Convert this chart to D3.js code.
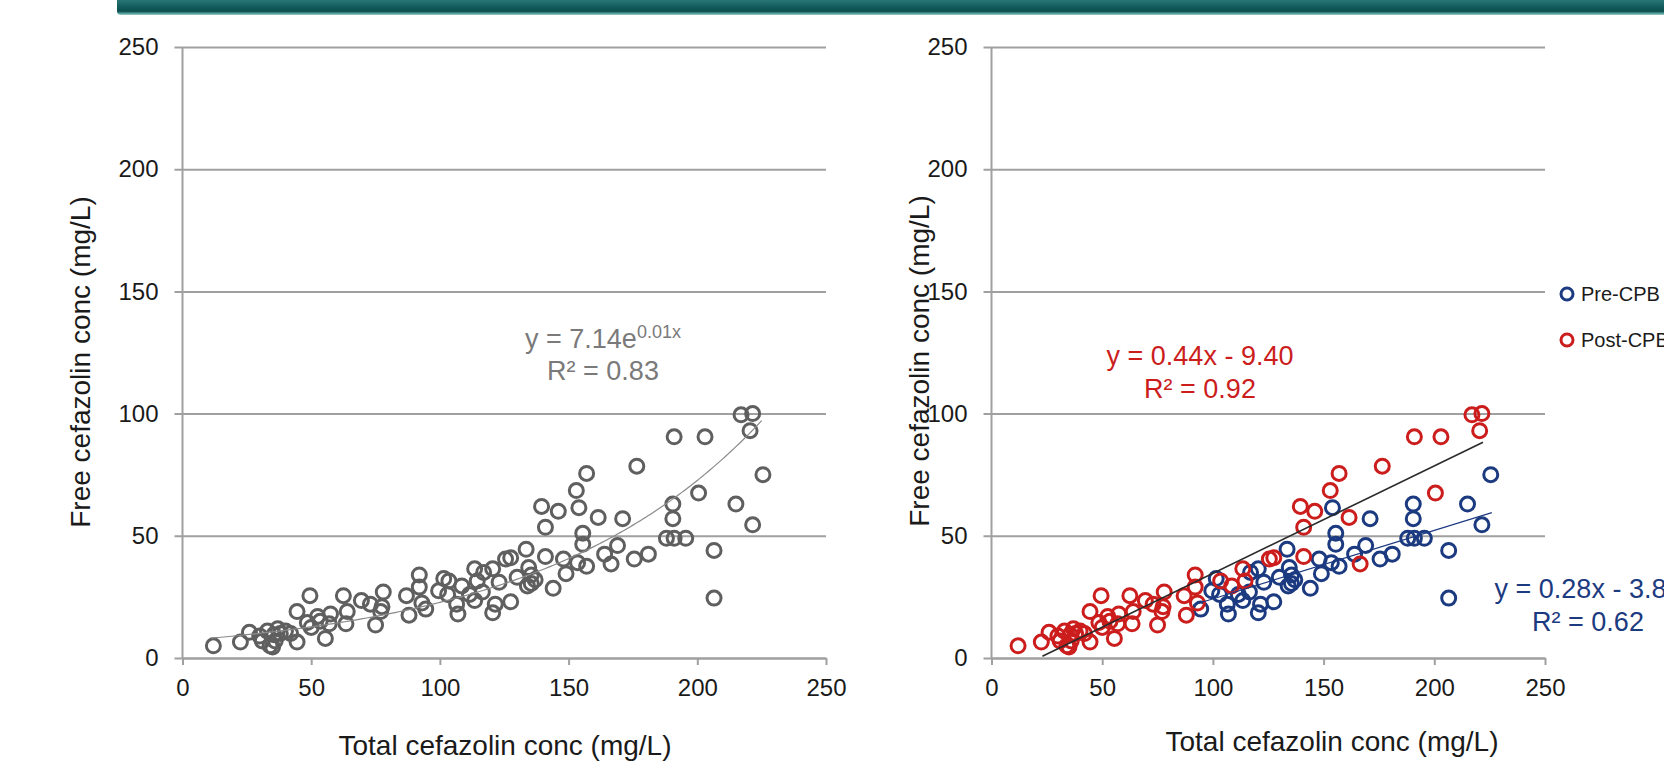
<!DOCTYPE html>
<html>
<head>
<meta charset="utf-8">
<script src="https://cdnjs.cloudflare.com/ajax/libs/d3/7.8.5/d3.min.js"></script>
<style>
  html, body { margin: 0; padding: 0; background: #ffffff; overflow: hidden; }
  svg { display: block; font-family: "Liberation Sans", Arial, sans-serif; }
</style>
</head>
<body>
<svg id="chart" width="1664" height="769"></svg>
<script>
// ---------------- DATA ----------------
const axisTicks = [0, 50, 100, 150, 200, 250];
const xTitle = "Total cefazolin conc (mg/L)";
const yTitle = "Free cefazolin conc (mg/L)";
const seriesNames = ["Pre-CPB", "Post-CPB"];

// Post-CPB samples: [total, free]
const postCPB = [
  [12,5],[22.5,6.5],[26,10.5],[30,9],[31,7],[33,11],[34,5],[35,4.5],[35.5,9.5],[36,7],
  [37,12],[38,10],[40,11],[42,10],[44.5,19],[44.5,6.5],[48.5,14.5],[49.5,25.5],[50,12.5],[52.5,17],
  [53.5,15],[55.5,8],[57.5,18],[57,14],[62.5,25.5],[63.5,14],[64,19],[69.5,23.5],[75,13.5],[73,22],
  [77,19],[78,27],[77.5,21],[87,25.5],[88,17.5],[92,34],[92,29],[93,22.5],[103.5,31.5],[108.5,29.5],
  [113.5,36.5],[114.5,31.5],[125.5,40.5],[127.5,41],[141,41.5],[141,53.5],[139.5,62],[146,60],[153,68.5],[157,75.5],
  [161.5,57.5],[166.5,38.5],[176.5,78.5],[191,90.5],[203,90.5],[200.5,67.5],[217,99.5],[221.5,100],[220.5,93]
];
// Pre-CPB samples: [total, free]
const preCPB = [
  [94.5,20],[99.5,27.5],[101.5,32.5],[103,26],[106.5,22],[107,18],[111.5,26],[113.5,23.5],[116.5,27],[117,35],
  [120.5,18.5],[120.5,36.5],[121.5,22],[123,31],[127.5,23],[130,33],[133.5,44.5],[134.5,37],[135.5,34],[135.5,30.5],
  [137,32],[134,29.5],[144,28.5],[148,40.5],[149,34.5],[153.5,39],[154,61.5],[155.5,51],[155.5,46.5],[157,37.5],
  [164,42.5],[169,46],[171,57],[175.5,40.5],[181,42.5],[188,49],[190.5,63],[190.5,57],[191,49],[195.5,49],
  [206.5,44],[206.5,24.5],[215,63],[221.5,54.5],[225.5,75]
];

// Trendlines (fitted)
const expFit = { a: 7.14, b: 0.0116, from: 11, to: 225 };       // all samples
const postFit = { slope: 0.44, intercept: -9.40, from: 23, to: 222 };
const preFit = { slope: 0.28, intercept: -3.80, from: 91, to: 226 };

const expLabel = ["y = 7.14e", "0.01x", "R² = 0.83"];
const postLabel = ["y = 0.44x - 9.40", "R² = 0.92"];
const preLabel = ["y = 0.28x - 3.80", "R² = 0.62"];

// ---------------- STYLE ----------------
const GREY_PT = "#5f5f5f", RED = "#cc1d1d", BLUE = "#1c3a80";
const GRID = "#a0a0a0";

const svg = d3.select("#chart");

// Banner
const defs = svg.append("defs");
const grad = defs.append("linearGradient").attr("id", "ban").attr("x1", 0).attr("y1", 0).attr("x2", 0).attr("y2", 1);
[[0, "#2a7676"], [0.45, "#145c5d"], [0.75, "#0e4d4f"], [0.86, "#3f8f8b"], [1, "#9ccfc7"]].forEach(s =>
  grad.append("stop").attr("offset", s[0]).attr("stop-color", s[1]));
svg.append("path")
  .attr("d", "M117,0 H1664 V15 H121 Q117,15 117,11 Z")
  .attr("fill", "url(#ban)");

function panel(cfg) {
  const x = d3.scaleLinear().domain([0, 250]).range([cfg.x0, cfg.x1]);
  const y = d3.scaleLinear().domain([0, 250]).range([cfg.y0, cfg.y1]);
  const g = svg.append("g");

  // gridlines + y ticks
  const yAxis = d3.axisLeft(y).tickValues(axisTicks).tickSize(cfg.x1 - cfg.x0 + 8).tickPadding(16);
  const ya = g.append("g").attr("transform", `translate(${cfg.x1},0)`).call(yAxis);
  ya.select(".domain").remove();
  ya.selectAll(".tick line").attr("stroke", GRID).attr("stroke-width", 2);
  ya.selectAll(".tick text").attr("font-size", 24).attr("fill", "#1a1a1a")
    .attr("font-family", "Liberation Sans, Arial, sans-serif");

  // x axis
  const xAxis = d3.axisBottom(x).tickValues(axisTicks).tickSize(7).tickPadding(14).tickSizeOuter(0);
  const xa = g.append("g").attr("transform", `translate(0,${cfg.y0})`).call(xAxis);
  xa.select(".domain").attr("stroke", GRID).attr("stroke-width", 2);
  xa.selectAll(".tick line").attr("stroke", GRID).attr("stroke-width", 2);
  xa.selectAll(".tick text").attr("font-size", 24).attr("fill", "#1a1a1a")
    .attr("font-family", "Liberation Sans, Arial, sans-serif");

  // y axis line
  g.append("line").attr("x1", cfg.x0).attr("x2", cfg.x0).attr("y1", cfg.y1).attr("y2", cfg.y0)
    .attr("stroke", GRID).attr("stroke-width", 2);

  // titles
  g.append("text").attr("x", cfg.xtX).attr("y", cfg.xtY).attr("text-anchor", "middle")
    .attr("font-size", 28).attr("fill", "#1a1a1a").text(xTitle);
  g.append("text").attr("transform", `translate(${cfg.ytX},${cfg.ytY}) rotate(-90)`)
    .attr("text-anchor", "middle").attr("dy", "0.35em")
    .attr("font-size", 28).attr("fill", "#1a1a1a").text(yTitle);
  return { g, x, y };
}

// ---------- Left panel ----------
const L = panel({ x0: 182.5, x1: 826, y0: 658, y1: 47, xtX: 505, xtY: 755, ytX: 80, ytY: 362 });
const allPts = postCPB.concat(preCPB);
L.g.append("g").selectAll("circle").data(allPts).join("circle")
  .attr("cx", d => L.x(d[0])).attr("cy", d => L.y(d[1])).attr("r", 7)
  .attr("fill", "none").attr("stroke", GREY_PT).attr("stroke-width", 3);
const expPts = d3.range(expFit.from, expFit.to + 0.01, 1).map(t => [t, expFit.a * Math.exp(expFit.b * t)]);
L.g.append("path").datum(expPts)
  .attr("d", d3.line().x(d => L.x(d[0])).y(d => L.y(d[1])))
  .attr("fill", "none").attr("stroke", "#8a8a8a").attr("stroke-width", 1.2);
const eq1 = L.g.append("text").attr("x", 603).attr("y", 348).attr("text-anchor", "middle")
  .attr("font-size", 27).attr("fill", "#7a7a7a");
eq1.append("tspan").text(expLabel[0]);
eq1.append("tspan").attr("font-size", 18).attr("dy", -10).text(expLabel[1]);
L.g.append("text").attr("x", 603).attr("y", 380).attr("text-anchor", "middle")
  .attr("font-size", 27).attr("fill", "#7a7a7a").text(expLabel[2]);

// ---------- Right panel ----------
const R = panel({ x0: 991.5, x1: 1545, y0: 658, y1: 47, xtX: 1332, xtY: 751, ytX: 919, ytY: 361 });
R.g.append("g").selectAll("circle").data(preCPB).join("circle")
  .attr("cx", d => R.x(d[0])).attr("cy", d => R.y(d[1])).attr("r", 7)
  .attr("fill", "none").attr("stroke", BLUE).attr("stroke-width", 3);
R.g.append("g").selectAll("circle").data(postCPB).join("circle")
  .attr("cx", d => R.x(d[0])).attr("cy", d => R.y(d[1])).attr("r", 7)
  .attr("fill", "none").attr("stroke", RED).attr("stroke-width", 3);

function lineFit(f, color, w) {
  R.g.append("line")
    .attr("x1", R.x(f.from)).attr("y1", R.y(f.slope * f.from + f.intercept))
    .attr("x2", R.x(f.to)).attr("y2", R.y(f.slope * f.to + f.intercept))
    .attr("stroke", color).attr("stroke-width", w);
}
lineFit(postFit, "#2a2a2a", 1.6);
lineFit(preFit, BLUE, 1.2);

[[postLabel, 1200, 365, RED], [preLabel, 1588, 598, BLUE]].forEach(([lab, cx, by, col]) => {
  R.g.append("text").attr("x", cx).attr("y", by).attr("text-anchor", "middle")
    .attr("font-size", 27).attr("fill", col).text(lab[0]);
  R.g.append("text").attr("x", cx).attr("y", by + 33).attr("text-anchor", "middle")
    .attr("font-size", 27).attr("fill", col).text(lab[1]);
});

// Legend
const leg = svg.append("g");
[[seriesNames[0], BLUE, 294], [seriesNames[1], RED, 340]].forEach(([name, col, cy]) => {
  leg.append("circle").attr("cx", 1567).attr("cy", cy).attr("r", 6)
    .attr("fill", "none").attr("stroke", col).attr("stroke-width", 3);
  leg.append("text").attr("x", 1581).attr("y", cy + 7).attr("font-size", 20)
    .attr("fill", "#1a1a1a").text(name);
});
</script>
</body>
</html>
